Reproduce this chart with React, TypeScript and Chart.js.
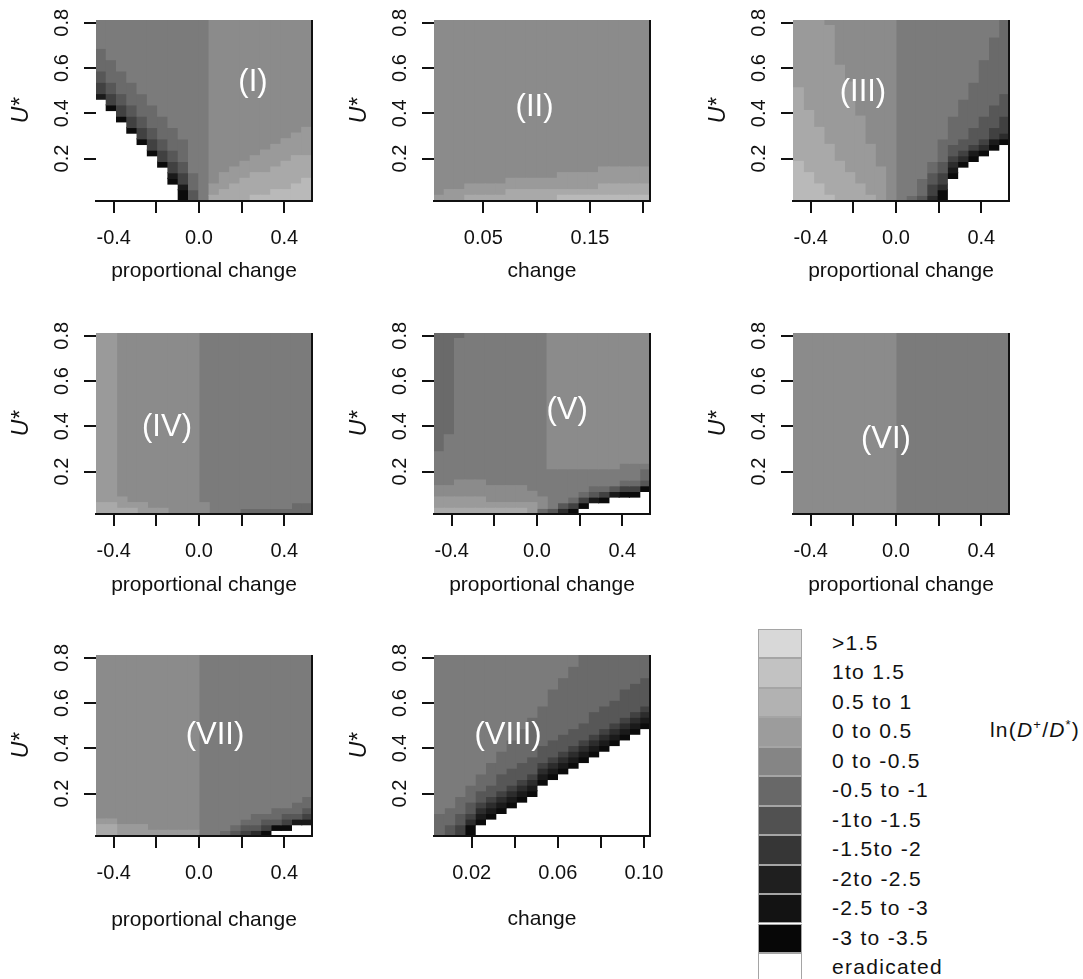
import React, { useEffect, useRef } from "react";
import { Chart, registerables } from "chart.js";

Chart.register(...registerables);

// ---------------- data ----------------
// level codes, light to dark; "." = eradicated
const LEVEL_CODES = ["A", "B", "C", "D", "E", "F", "G", "H", "I", "J", "K", "."];
const LEVEL_LABELS = [
  ">1.5", "1to 1.5", "0.5 to 1", "0 to 0.5", "0 to -0.5", "-0.5 to -1",
  "-1to -1.5", "-1.5to -2", "-2to -2.5", "-2.5 to -3", "-3 to -3.5", "eradicated",
];
const CELL_GREYS = [
  "#b9b9b9", "#a9a9a9", "#9a9a9a", "#8b8b8b", "#7b7b7b", "#6a6a6a",
  "#575757", "#414141", "#2c2c2c", "#1a1a1a", "#0b0b0b", "#ffffff",
];
const LEGEND_GREYS = [
  "#d8d8d8", "#c2c2c2", "#b2b2b2", "#9c9c9c", "#858585", "#686868",
  "#515151", "#363636", "#1f1f1f", "#131313", "#070707", "#ffffff",
];

const U_EXTENT = [0.0125, 0.8125];
const U_ROWS = 32;
const U_TICKS = [0.2, 0.4, 0.6, 0.8];

const PROP_EXTENT = [-0.483, 0.53];
const PROP_TICKS = [-0.4, -0.2, 0, 0.2, 0.4];
const PROP_TICK_LABELS = ["-0.4", "", "0.0", "", "0.4"];
const CHANGE_II_EXTENT = [0.0038, 0.2062];
const CHANGE_II_TICKS = [0.05, 0.1, 0.15, 0.2];
const CHANGE_II_TICK_LABELS = ["0.05", "", "0.15", ""];
const CHANGE_VIII_EXTENT = [0.0025, 0.1028];
const CHANGE_VIII_TICKS = [0.02, 0.04, 0.06, 0.08, 0.1];
const CHANGE_VIII_TICK_LABELS = ["0.02", "", "0.06", "", "0.10"];

// each string = one grid column (left to right), run-length coded from top (U*=0.8) to bottom
const PANEL_I = [
  "E5F4G2H2J1.18", "E7F4G2H2K1.16", "E9F4G2H2K1.14", "E11F4G2H2K1.12", "E13F4G2H2K1.10",
  "E15F4G2H2K1.8", "E17F4G2H2K1.6", "E19F4G2H2J1K1.3", "E21F4G2H2J1K2", "E27F3G2", "E32",
  "D29C2B1", "D27C3B2", "D26C3B3", "D25C3B4", "D24C3B4A1", "D23C4B4A1", "D22C4B4A2",
  "D21C4B5A2", "D20C4B5A3", "D19C5B4A4",
];
const PANEL_II = [
  "D31C1", "D30C2", "D30C2", "D29C2B1", "D29C2B1", "D29C2B1", "D29C2B1", "D28C2B2",
  "D28C2B2", "D28C2B2", "D28C2B2", "D28C2B2", "D27C3B1A1", "D27C3B1A1", "D27C3B1A1",
  "D27C3B1A1", "D26C3B2A1", "D26C3B2A1", "D26C3B2A1", "D26C3B2A1", "D26C3B2A1",
];
const PANEL_III = [
  "C12B13A7", "C16B11A5", "C19B10A3", "D1C21B9A1", "D8C17B7", "D11C16B5", "D17C12B3",
  "D22C9B1", "D26C6", "D32", "E32", "E31F1", "E28F3G1", "E25F2G2H2I1", "E21F4G2H2I1K2",
  "E17F5G2H1I1J1K1.4", "E14F7G2H1I1K1.6", "E11F8G3H1J1K1.7", "E7F10G4H1I1K1.8",
  "E3F12G4H2J1K1.9", "F13G4H3I1K1.10",
];
const PANEL_IV = [
  "C30B2", "C30B2", "D29C2B1", "D30C1B1", "D30C2", "D31C1", "D31C1", "D32", "D32", "D32",
  "E30D2", "E32", "E32", "E32", "E31F1", "E31F1", "E31F1", "E31F1", "E31F1", "E30F2", "E30F2",
];
const PANEL_V = [
  "F21E6D2C2B1", "F18E9D2C2B1", "F1E25D3C2B1", "E26D3C2B1", "E26D3C2B1", "E27D3C1B1",
  "E27D3C1B1", "E27D3C1B1", "E27D3C1B1", "E28D2C2", "E29D2F1", "D24E7G1", "D24E6G1I1",
  "D24E5F1H1K1", "D24E4F1H1K1.1", "D24E3F1G1J1.2", "D24E3F1H1K1.2", "D24E3G1J1.3",
  "D23E3F1H1K1.3", "D23E3F1H1K1.3", "D23E1F2G1K1.4",
];
const PANEL_VI = [
  "D32", "D32", "D32", "D32", "D32", "D32", "D32", "D32", "D32", "D32",
  "E32", "E32", "E32", "E32", "E32", "E32", "E32", "E32", "E32", "E32", "E32",
];
const PANEL_VII = [
  "D29C1B2", "D29C1B2", "D30C2", "D30C2", "D30C2", "D31C1", "D31C1", "D31C1", "D31C1",
  "D31C1", "E32", "E32", "E31F1", "E30F1G1", "E29F1G1H1", "E28F2G1I1", "E28F1G1H1K1",
  "E27F2G1K1.1", "E27F1G1H1K1.1", "E26F2G1J1.2", "E25F2G1H1J1.2",
];
const PANEL_VIII = [
  "E28F4", "E27F3G2", "E25F3G2H2", "E23F3G2H1I1K2", "E21F3G2H1I1J1K1.2",
  "E19F4G2H1I1J1K1.3", "E17F4G3H1I1J1K1.4", "E15F5G3H1I1J1K1.5", "E13F6G3H1I1J1K1.6",
  "E11F7G3H1I1J1K1.7", "E9F7G3H1I1J1K1.9", "E6F9G3H1I1J1K1.10", "E4F10G3H1I1J1K1.11",
  "E2F11G3H1I1J1K1.12", "F12G3H1I1J1K1.13", "F10G4H1I1J1K1.14", "F9G4H1I1J1K1.15",
  "F8G4H1I1J1K1.16", "F6G5H1I1J1K1.17", "F5G5H1I1J1K1.18", "F4G5H1I1J1K1.19",
];

// ---------------- layout ----------------
const FONT = "'Liberation Sans', Arial, Helvetica, sans-serif";
const AX_W = 96;
const PAD_T = 26;
const PAD_R = 36;
const PLOT_W = 216;
const PLOT_H = 181;
const X_AX_H = 100;
const CW = AX_W + PLOT_W + PAD_R;
const CH = PAD_T + PLOT_H + X_AX_H;

const PANELS = [
  { name: "(I)", cols: PANEL_I, ext: PROP_EXTENT, ticks: PROP_TICKS, tl: PROP_TICK_LABELS, title: "proportional change", left: 96, top: 20, tpad: 17, at: [0.253, 0.538] },
  { name: "(II)", cols: PANEL_II, ext: CHANGE_II_EXTENT, ticks: CHANGE_II_TICKS, tl: CHANGE_II_TICK_LABELS, title: "change", left: 434, top: 20, tpad: 17, at: [0.098, 0.428] },
  { name: "(III)", cols: PANEL_III, ext: PROP_EXTENT, ticks: PROP_TICKS, tl: PROP_TICK_LABELS, title: "proportional change", left: 793, top: 20, tpad: 17, at: [-0.155, 0.494] },
  { name: "(IV)", cols: PANEL_IV, ext: PROP_EXTENT, ticks: PROP_TICKS, tl: PROP_TICK_LABELS, title: "proportional change", left: 96, top: 333, tpad: 16, at: [-0.15, 0.397] },
  { name: "(V)", cols: PANEL_V, ext: PROP_EXTENT, ticks: PROP_TICKS, tl: PROP_TICK_LABELS, title: "proportional change", left: 434, top: 333, tpad: 16, at: [0.141, 0.472] },
  { name: "(VI)", cols: PANEL_VI, ext: PROP_EXTENT, ticks: PROP_TICKS, tl: PROP_TICK_LABELS, title: "proportional change", left: 793, top: 333, tpad: 16, at: [-0.047, 0.34] },
  { name: "(VII)", cols: PANEL_VII, ext: PROP_EXTENT, ticks: PROP_TICKS, tl: PROP_TICK_LABELS, title: "proportional change", left: 96, top: 655, tpad: 3, at: [0.075, 0.459] },
  { name: "(VIII)", cols: PANEL_VIII, ext: CHANGE_VIII_EXTENT, ticks: CHANGE_VIII_TICKS, tl: CHANGE_VIII_TICK_LABELS, title: "change", left: 434, top: 655, tpad: 4, at: [0.0369, 0.459] },
];

function decodeColumn(spec: string): string[] {
  const out: string[] = [];
  const re = /([A-K.])(\d+)/g;
  let m: RegExpExecArray | null;
  while ((m = re.exec(spec))) {
    for (let i = 0; i < Number(m[2]); i++) out.push(m[1]);
  }
  return out;
}

function buildDatasets(columns: string[], ext: number[]) {
  const colW = (ext[1] - ext[0]) / columns.length;
  const rowH = (U_EXTENT[1] - U_EXTENT[0]) / U_ROWS;
  const groups = new Map<string, any[]>();
  columns.forEach((spec, ci) => {
    const cells = decodeColumn(spec);
    const x = ext[0] + (ci + 0.5) * colW;
    let t = 0;
    while (t < cells.length) {
      let e = t;
      while (e + 1 < cells.length && cells[e + 1] === cells[t]) e++;
      const yTop = U_EXTENT[1] - t * rowH;
      const yBot = U_EXTENT[1] - (e + 1) * rowH;
      if (!groups.has(cells[t])) groups.set(cells[t], []);
      groups.get(cells[t])!.push({ x, y: [yBot, yTop] });
      t = e + 1;
    }
  });
  return LEVEL_CODES.filter((c) => groups.has(c)).map((c) => {
    const li = LEVEL_CODES.indexOf(c);
    return {
      label: LEVEL_LABELS[li],
      data: groups.get(c),
      backgroundColor: CELL_GREYS[li],
      borderWidth: 0,
      grouped: false,
      barPercentage: 1,
      categoryPercentage: 1,
      inflateAmount: 0.6,
    };
  });
}

const decorPlugin = {
  id: "panelDecor",
  afterDatasetsDraw(chart: any, _args: any, opts: any) {
    const { ctx, chartArea, scales } = chart;
    ctx.save();
    ctx.strokeStyle = "#111";
    ctx.lineWidth = 2;
    ctx.beginPath();
    ctx.moveTo(chartArea.right, chartArea.top);
    ctx.lineTo(chartArea.right, chartArea.bottom + 1);
    ctx.stroke();
    ctx.fillStyle = "#ffffff";
    ctx.font = `31px ${FONT}`;
    ctx.textAlign = "center";
    ctx.textBaseline = "middle";
    ctx.fillText(opts.text, scales.x.getPixelForValue(opts.x), scales.y.getPixelForValue(opts.y));
    ctx.restore();
  },
};

function Panel({ p }: { p: any }) {
  const ref = useRef<HTMLCanvasElement | null>(null);
  useEffect(() => {
    const chart = new Chart(ref.current as HTMLCanvasElement, {
      type: "bar",
      data: { datasets: buildDatasets(p.cols, p.ext) as any },
      options: {
        responsive: false,
        animation: false,
        events: [],
        layout: { padding: { top: PAD_T, right: PAD_R, left: 0, bottom: 0 } },
        plugins: {
          legend: { display: false },
          tooltip: { enabled: false },
          panelDecor: { text: p.name, x: p.at[0], y: p.at[1] },
        } as any,
        scales: {
          x: {
            type: "linear",
            min: p.ext[0],
            max: p.ext[1],
            bounds: "data",
            offset: false,
            grid: { offset: false, drawOnChartArea: false, drawTicks: true, tickLength: 12, lineWidth: 2, color: "#111" },
            border: { display: true, color: "#111", width: 2, z: 1 },
            ticks: {
              autoSkip: false, maxRotation: 0, minRotation: 0, padding: 13, color: "#111",
              font: { family: FONT, size: 20 },
              callback: (_v: any, i: number) => p.tl[i] ?? "",
            },
            afterBuildTicks: (s: any) => { s.ticks = p.ticks.map((v: number) => ({ value: v })); },
            afterFit: (s: any) => { s.height = X_AX_H; },
            title: { display: true, text: p.title, color: "#111", font: { family: FONT, size: 21 }, padding: { top: 0, bottom: p.tpad } },
          } as any,
          y: {
            type: "linear",
            min: U_EXTENT[0],
            max: U_EXTENT[1],
            bounds: "data",
            grid: { drawOnChartArea: false, drawTicks: true, tickLength: 12, lineWidth: 2, color: "#111" },
            border: { display: false },
            ticks: {
              autoSkip: false, minRotation: 90, maxRotation: 90, crossAlign: "center", padding: 8, color: "#111",
              font: { family: FONT, size: 20 },
              callback: (v: any) => Number(v).toFixed(1),
            },
            afterBuildTicks: (s: any) => { s.ticks = U_TICKS.map((v) => ({ value: v })); },
            afterFit: (s: any) => { s.width = AX_W; },
            title: { display: true, text: "U*", color: "#111", font: { family: FONT, size: 23, style: "italic" }, padding: { top: 8, bottom: 0 } },
          } as any,
        },
      },
      plugins: [decorPlugin as any],
    });
    return () => chart.destroy();
  }, []);
  return (
    <canvas
      ref={ref}
      width={CW}
      height={CH}
      style={{ position: "absolute", left: p.left - AX_W, top: p.top - PAD_T, width: CW, height: CH }}
    />
  );
}

const LEG_LEFT = 758;
const LEG_TOP = 629;
const LEG_W = 44;
const LEG_PITCH = 29.45;
const LEG_TEXT_LEFT = 832;

function Legend() {
  return (
    <>
      {LEVEL_LABELS.map((lab, i) => (
        <React.Fragment key={lab}>
          <div
            style={{
              position: "absolute", left: LEG_LEFT, top: LEG_TOP + i * LEG_PITCH, width: LEG_W,
              height: LEG_PITCH, boxSizing: "border-box", border: "1.6px solid #a5a5a5",
              background: LEGEND_GREYS[i],
            }}
          />
          <div
            style={{
              position: "absolute", left: LEG_TEXT_LEFT, top: LEG_TOP + i * LEG_PITCH + 14 - 13,
              height: 26, lineHeight: "26px", fontSize: 21, letterSpacing: "1.3px", color: "#111",
              whiteSpace: "nowrap", fontFamily: FONT,
            }}
          >
            {lab}
          </div>
        </React.Fragment>
      ))}
      <div
        style={{
          position: "absolute", left: 990, top: 712, height: 26, lineHeight: "26px", fontSize: 21,
          letterSpacing: "1.2px", color: "#111", whiteSpace: "nowrap", fontFamily: FONT,
        }}
      >
        ln(<i>D</i>
        <span style={{ fontSize: 13, verticalAlign: "8px" }}>+</span>/<i>D</i>
        <span style={{ fontSize: 13, verticalAlign: "8px" }}>*</span>)
      </div>
    </>
  );
}

export default function App() {
  return (
    <div
      style={{
        position: "absolute", left: 0, top: 0, width: 1083, height: 979, overflow: "hidden",
        background: "#fff", fontFamily: FONT,
      }}
    >
      {PANELS.map((p) => (
        <Panel key={p.name} p={p} />
      ))}
      <Legend />
    </div>
  );
}
